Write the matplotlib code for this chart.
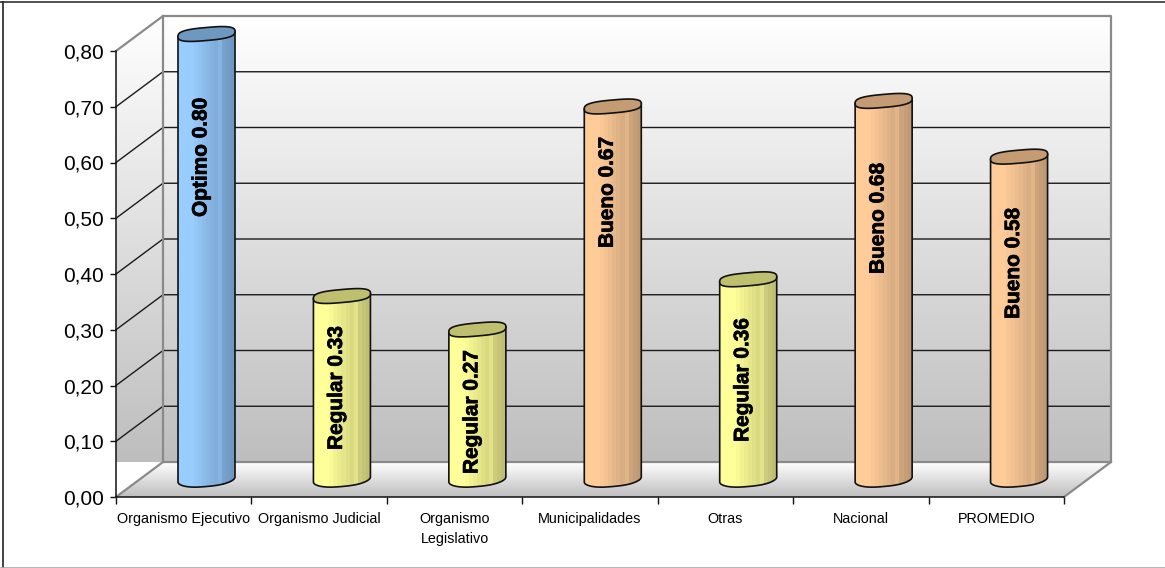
import matplotlib
matplotlib.use('Agg')
import matplotlib.pyplot as plt
import matplotlib.patheffects as pe
from matplotlib.patches import Polygon
from matplotlib.colors import to_rgb, LinearSegmentedColormap
import numpy as np

plt.rcParams['font.family'] = ['Liberation Sans', 'DejaVu Sans']

categories = ['Organismo Ejecutivo', 'Organismo Judicial', 'Organismo\nLegislativo',
              'Municipalidades', 'Otras', 'Nacional', 'PROMEDIO']
values = [0.80, 0.33, 0.27, 0.67, 0.36, 0.68, 0.58]
ratings = ['Optimo', 'Regular', 'Regular', 'Bueno', 'Regular', 'Bueno', 'Bueno']
y_ticks = [0.0, 0.1, 0.2, 0.3, 0.4, 0.5, 0.6, 0.7, 0.8]

# colores por calificacion: claro, oscuro, tapa
rating_colors = {'Optimo': ('#99CCFF', '#6F98C0', '#6F98C0'),
                 'Regular': ('#FFFF99', '#BFBF73', '#BFBF70'),
                 'Bueno': ('#FFCC99', '#BF9973', '#C49B73')}

W, H = 1165, 568
X0, X1, Y0, Y1 = 116, 1064, 497, 51   # plano frontal en pixeles
DX, DY = 47, 35                       # profundidad 3d en pixeles

fig = plt.figure(figsize=(W / 100, H / 100), dpi=100, facecolor='white')
ax = fig.add_axes([X0 / W, 1 - Y0 / H, (X1 - X0) / W, (Y0 - Y1) / H])
ax.patch.set_visible(False)

ux = len(categories) / (X1 - X0)   # unidades por pixel
uy = 0.8 / (Y0 - Y1)
dx = DX * ux
dy = DY * uy
xmax = len(categories)
ymax = 0.8

grad = LinearSegmentedColormap.from_list('g', ['#FFFFFF', '#BEBEBE'])
ramp = np.linspace(0, 1, 256).reshape(-1, 1)


def gradient(verts, extent):
    im = ax.imshow(ramp, cmap=grad, extent=extent, aspect='auto', origin='upper', zorder=1)
    poly = Polygon(verts, transform=ax.transData, fill=False, edgecolor='none', clip_on=False)
    ax.add_patch(poly)
    im.set_clip_box(fig.bbox)   # si no, la imagen se corta en el bbox del eje
    im.set_clip_path(poly)


# paredes y piso
gradient([(dx, dy), (xmax + dx, dy), (xmax + dx, ymax + dy), (dx, ymax + dy)],
         (dx, xmax + dx, dy, ymax + dy))
gradient([(0, 0), (dx, dy), (dx, ymax + dy), (0, ymax)], (0, dx, dy, ymax + dy))
gradient([(0, 0), (xmax, 0), (xmax + dx, dy), (dx, dy)], (0, xmax + dx, 0, dy))

for t in y_ticks[1:-1]:
    ax.plot([0, dx, xmax + dx], [t, t + dy, t + dy], color='#1A1A1A', lw=1.0, zorder=2, clip_on=False)
gray = dict(color='#8A8A8A', lw=1.6, zorder=2, clip_on=False)
ax.plot([0, dx, xmax + dx, xmax + dx, xmax], [ymax, ymax + dy, ymax + dy, dy, 0], **gray)
ax.plot([dx, dx], [dy, ymax + dy], **gray)
ax.plot([0, dx, xmax + dx], [0, dy, dy], **gray)


def shade(light, dark, f):
    a, b = np.array(to_rgb(light)), np.array(to_rgb(dark))
    return tuple(a + (b - a) * f)


# cilindros
half = 28.5 * ux
b = 6.5 * uy
tilt = 2.5 * uy
base = 17 * uy
nstrip = 14
for i, (v, r) in enumerate(zip(values, ratings)):
    light, dark, cap = rating_colors[r]
    cx = i + (90.5 * ux)
    top = v + base

    def low(x, yc):
        u = np.clip((x - cx) / half, -1, 1)
        return yc - b * (1 - np.abs(u) ** 2.6) ** 0.6 + tilt * u

    edges = np.linspace(cx - half, cx + half, nstrip + 1)
    for k in range(nstrip):
        xs = np.linspace(edges[k], edges[k + 1], 6)
        f = max(0, (k - 3) / (nstrip - 4))
        if k == 10:
            f = f * 0.65
        ax.fill(np.r_[xs, xs[::-1]], np.r_[low(xs, base), low(xs[::-1], top)],
                color=shade(light, dark, f), lw=0, zorder=3, clip_on=False, antialiased=False)
    # tapa
    t = np.linspace(0, 2 * np.pi, 120)
    capx = cx + half * np.sign(np.cos(t)) * np.abs(np.cos(t)) ** 0.7
    capy = top + b * np.sign(np.sin(t)) * np.abs(np.sin(t)) ** 0.7 + tilt * (capx - cx) / half
    ax.fill(capx, capy, facecolor=cap, edgecolor='#111111', lw=1.2, zorder=5, clip_on=False)
    # contorno
    xs = np.linspace(cx - half, cx + half, 60)
    ax.plot(np.r_[cx - half, xs, cx + half],
            np.r_[top - tilt, low(xs, base), top + tilt],
            color='#111111', lw=1.2, zorder=4, clip_on=False)

# etiquetas de las barras: extremo inferior del texto, en pixeles
label_bottom_px = [217, 450, 474, 248, 442, 274, 319]
for i, (v, r) in enumerate(zip(values, ratings)):
    ax.text(i + (85 * ux), (Y0 - label_bottom_px[i]) * uy, '%s %.2f' % (r, v), rotation=90,
            ha='center', va='bottom', fontsize=15, fontweight='bold', color='black', zorder=6,
            path_effects=[pe.withStroke(linewidth=0.5, foreground='black')])

# ejes
ax.set_xlim(0, xmax)
ax.set_ylim(0, ymax)
for s in ('top', 'right'):
    ax.spines[s].set_visible(False)
for s in ('left', 'bottom'):
    ax.spines[s].set_color('#111111')
    ax.spines[s].set_linewidth(1.1)
    ax.spines[s].set_zorder(7)
ax.set_yticks(y_ticks)
ax.yaxis.set_major_formatter(plt.FuncFormatter(lambda t, p: ('%.2f' % t).replace('.', ',')))
ax.tick_params(axis='y', length=4.5, width=1.0, labelsize=15, pad=4, color='#111111')
ax.set_xticks(range(xmax + 1))
ax.set_xticklabels([])
ax.tick_params(axis='x', length=5, width=1.0, color='#111111')
ax.set_xticks(np.arange(xmax) + 0.5, minor=True)
ax.set_xticklabels(categories, minor=True, fontsize=10.4, linespacing=1.55, va='top')
ax.tick_params(axis='x', which='minor', length=0, pad=11)

# marco exterior: arriba e izquierda oscuros, abajo gris, sin lado derecho
fig.add_artist(plt.Line2D([0, 1], [1 - 1.5 / H, 1 - 1.5 / H], color='#333333', lw=1.2))
fig.add_artist(plt.Line2D([2.5 / W, 2.5 / W], [0.5 / H, 1 - 1.5 / H], color='#222222', lw=1.2))
fig.add_artist(plt.Line2D([0, 1], [0.5 / H, 0.5 / H], color='#A8A8A8', lw=1.2))

fig.savefig('out.png', dpi=100, facecolor='white')
